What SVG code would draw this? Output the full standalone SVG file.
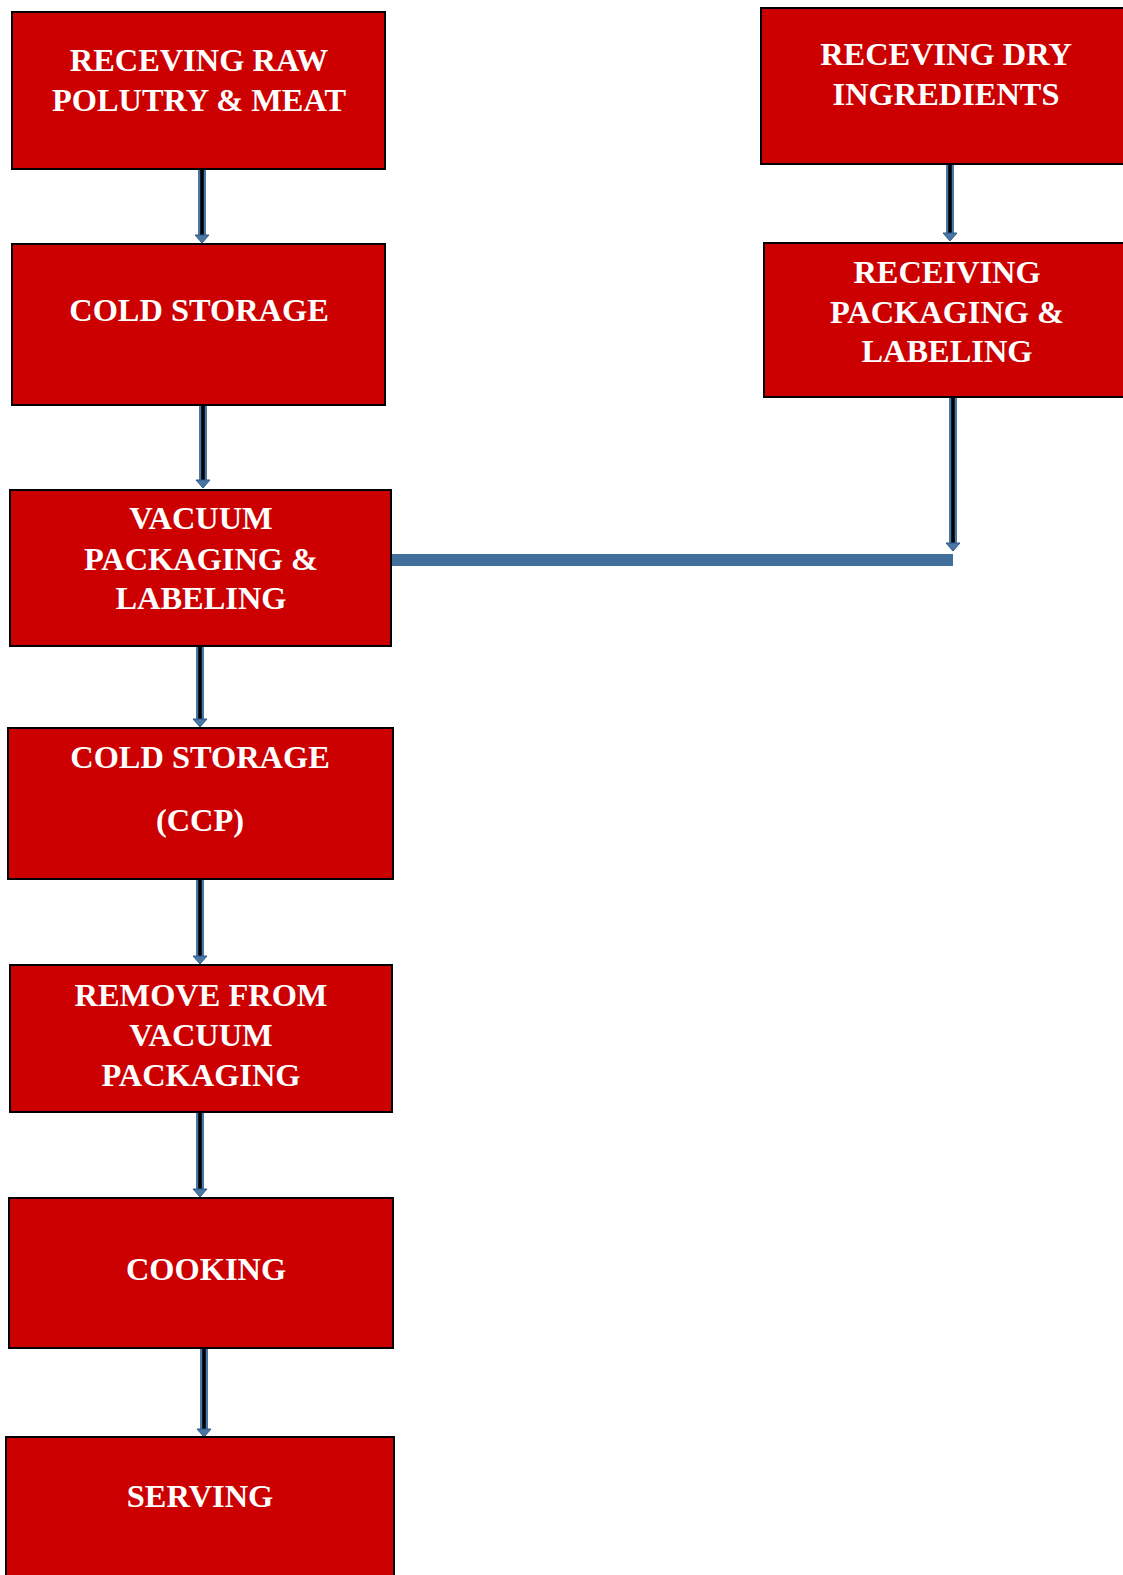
<svg xmlns="http://www.w3.org/2000/svg" width="1123" height="1575" viewBox="0 0 1123 1575">
<defs>
<style>
.box{fill:#cc0000;stroke:#000;stroke-width:2}
.t{fill:#fff;font-family:"Liberation Serif","Times New Roman",serif;font-weight:bold;font-size:32.4px;text-anchor:middle}
.shaft{stroke:#4a76a6;stroke-width:8;fill:none}
.core{stroke:#000;stroke-width:3.5;fill:none}
.head{fill:#4a76a6;stroke:#2f5a88;stroke-width:1}
</style>
</defs>
<rect width="1123" height="1575" fill="#fff"/>
<g id="connectors">
<g id="a1"><line class="shaft" x1="202" y1="169" x2="202" y2="236"/><line class="core" x1="202" y1="169" x2="202" y2="238"/><polygon class="head" points="195,235 209,235 202,243"/></g>
<g id="a2"><line class="shaft" x1="203" y1="405" x2="203" y2="481"/><line class="core" x1="203" y1="405" x2="203" y2="483"/><polygon class="head" points="196,480 210,480 203,488"/></g>
<g id="a3"><line class="shaft" x1="200" y1="646" x2="200" y2="720"/><line class="core" x1="200" y1="646" x2="200" y2="722"/><polygon class="head" points="193,719 207,719 200,727"/></g>
<g id="a4"><line class="shaft" x1="200" y1="879" x2="200" y2="957"/><line class="core" x1="200" y1="879" x2="200" y2="959"/><polygon class="head" points="193,956 207,956 200,964"/></g>
<g id="a5"><line class="shaft" x1="200" y1="1112" x2="200" y2="1190"/><line class="core" x1="200" y1="1112" x2="200" y2="1192"/><polygon class="head" points="193,1189 207,1189 200,1197"/></g>
<g id="a6"><line class="shaft" x1="204" y1="1348" x2="204" y2="1430"/><line class="core" x1="204" y1="1348" x2="204" y2="1432"/><polygon class="head" points="197,1429 211,1429 204,1437"/></g>
<g id="a7"><line class="shaft" x1="950" y1="164" x2="950" y2="234"/><line class="core" x1="950" y1="164" x2="950" y2="236"/><polygon class="head" points="943,233 957,233 950,241"/></g>
<g id="a8"><line class="shaft" x1="953" y1="397" x2="953" y2="544"/><line class="core" x1="953" y1="397" x2="953" y2="546"/><polygon class="head" points="946,543 960,543 953,551"/></g>
<rect id="bar" x="391" y="554" width="562" height="12" fill="#41709f"/>
</g>
<g id="n1"><rect class="box" x="12" y="12" width="373" height="157"/><text class="t" x="199" y="71">RECEVING RAW</text><text class="t" x="199" y="111">POLUTRY &amp; MEAT</text></g>
<g id="n2"><rect class="box" x="12" y="244" width="373" height="161"/><text class="t" x="199" y="321">COLD STORAGE</text></g>
<g id="n3"><rect class="box" x="10" y="490" width="381" height="156"/><text class="t" x="201" y="529">VACUUM</text><text class="t" x="201" y="570">PACKAGING &amp;</text><text class="t" x="201" y="609">LABELING</text></g>
<g id="n4"><rect class="box" x="8" y="728" width="385" height="151"/><text class="t" x="200" y="768">COLD STORAGE</text><text class="t" x="200" y="831">(CCP)</text></g>
<g id="n5"><rect class="box" x="10" y="965" width="382" height="147"/><text class="t" x="201" y="1006">REMOVE FROM</text><text class="t" x="201" y="1046">VACUUM</text><text class="t" x="201" y="1086">PACKAGING</text></g>
<g id="n6"><rect class="box" x="9" y="1198" width="384" height="150"/><text class="t" x="206" y="1280">COOKING</text></g>
<g id="n7"><rect class="box" x="6" y="1437" width="388" height="145"/><text class="t" x="200" y="1507">SERVING</text></g>
<g id="n8"><rect class="box" x="761" y="8" width="370" height="156"/><text class="t" x="946" y="65">RECEVING DRY</text><text class="t" x="946" y="105">INGREDIENTS</text></g>
<g id="n9"><rect class="box" x="764" y="243" width="367" height="154"/><text class="t" x="947" y="283">RECEIVING</text><text class="t" x="947" y="323">PACKAGING &amp;</text><text class="t" x="947" y="362">LABELING</text></g>
</svg>
